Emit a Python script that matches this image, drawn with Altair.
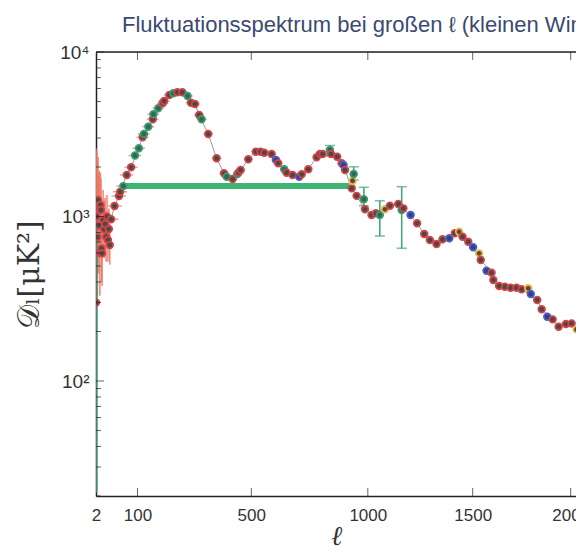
import altair as alt
import pandas as pd

# ---- main binned spectrum (multipole, D_ell in muK^2, dataset kind) ----
ell = [31, 39, 50, 53, 61, 70, 82, 93, 104, 115, 119, 132, 146, 148, 163, 177, 182, 199,
       212, 226, 243, 261, 273, 287, 302, 311, 335, 366, 394, 404, 427, 445, 450, 458,
       488, 518, 537, 552, 582, 600, 609, 634, 644, 669, 697, 708, 736, 772, 786, 798,
       830, 835, 862, 882, 890, 897, 927, 931, 936, 949, 982, 987, 1017, 1037, 1055,
       1079, 1102, 1141, 1157, 1165, 1199, 1230, 1264, 1291, 1323, 1352, 1385, 1412,
       1433, 1450, 1478, 1502, 1532, 1540, 1569, 1594, 1603, 1632, 1661, 1690, 1720,
       1746, 1780, 1793, 1826, 1849, 1878, 1906, 1937, 1975, 2005, 2031]
dl = [962, 1158, 1332, 1415, 1530, 1788, 1991, 2350, 2598, 3030, 3174, 3514, 3898, 4182,
      4548, 4877, 5036, 5477, 5610, 5689, 5689, 5401, 4918, 4830, 4140, 3898, 3174, 2259,
      1830, 1746, 1690, 1813, 1850, 1917, 2227, 2477, 2477, 2442, 2399, 2205, 2105, 1936,
      1846, 1788, 1746, 1805, 1936, 2291, 2399, 2399, 2537, 2399, 2309, 2105, 2056, 1917,
      1484, 1650, 1813, 1335, 1273, 1106, 1021, 1046, 1021, 1106, 1163, 1191, 1095, 1121,
      1021, 909, 783, 720, 681, 727, 737, 791, 808, 754, 703, 650, 597, 544, 468, 455,
      411, 378, 374, 369, 369, 361, 366, 338, 311, 273, 246, 237, 214, 222, 224, 206]
kind = ["r", "r", "r", "r", "g", "r", "r", "g", "g", "r", "g", "g", "r", "g", "g", "r", "r", "r",
        "g", "r", "r", "g", "r", "r", "r", "g", "r", "r", "r", "g", "r", "g", "r", "r",
        "r", "r", "r", "r", "r", "b", "r", "g", "r", "r", "b", "r", "r", "r", "r", "r",
        "g", "r", "r", "r", "b", "r", "r", "y", "g", "r", "g", "r", "r", "r", "g",
        "y", "r", "r", "g", "r", "b", "r", "r", "r", "r", "r", "b", "r",
        "y", "r", "r", "b", "y", "r", "b", "r", "r", "r", "r", "r", "r",
        "r", "y", "b", "r", "r", "b", "r", "r", "r", "r", "y"]

# ---- low multipoles with large (cosmic variance) error bars ----
low_ell = [2, 3, 4, 5, 6, 7, 8, 9, 10, 11, 12, 14, 16, 18, 20, 22, 24, 26, 28]
low_dl = [300, 1000, 750, 1260, 880, 1100, 600, 1175, 1095, 640, 597, 952, 836, 900, 754,
          1000, 720, 840, 671]
low_lo = [180, 380, 330, 600, 450, 600, 330, 680, 650, 400, 380, 620, 560, 620, 530,
          720, 530, 630, 510]
low_hi = [2600, 2500, 2200, 2300, 1800, 1900, 1300, 1850, 1700, 1150, 1050, 1450, 1250,
          1300, 1080, 1350, 1000, 1120, 900]
low_green_ell = [3]
low_green_lo = [21]
low_green_hi = [1300]

# ---- large green error bars with caps ----
bar_ell = [830, 936, 982, 1055, 1157]
bar_lo = [2330, 1667, 1163, 761, 641]
bar_hi = [2700, 2008, 1505, 1247, 1518]

# ---- highlighted horizontal band ----
band_ell = [55]
band_ell2 = [915]
band_dl = [1530]

# ---- axes ----
x_tick_values = [2, 100, 500, 1000, 1500, 2000]
x_major = [100, 500, 1000, 1500, 2000]
y_major = [100, 1000, 10000]
y_minor = [20, 30, 40, 50, 60, 70, 80, 90, 200, 300, 400, 500, 600, 700, 800, 900,
           2000, 3000, 4000, 5000, 6000, 7000, 8000, 9000]

W, H = 480, 444
XS = alt.Scale(type="pow", exponent=0.8, domain=[2, 2028], zero=False, nice=False)
YS = alt.Scale(type="log", domain=[20, 10000], nice=False)

xaxis = alt.Axis(values=x_tick_values, format="d", ticks=False, domain=True,
                 domainColor="#222222", domainWidth=1.5, grid=False,
                 labelFontSize=17, labelColor="#333333", labelFont="Liberation Sans",
                 labelPadding=11, labelFlush=False, labelOverlap=False, labelBound=False,
                 title="ℓ", titleFont="DejaVu Serif", titleFontStyle="italic",
                 titleFontSize=27, titleFontWeight="normal", titleColor="#333333",
                 titlePadding=0)
yaxis = alt.Axis(values=y_major, ticks=False, domain=True,
                 domainColor="#222222", domainWidth=1.5, grid=False,
                 labelExpr="datum.value == 100 ? '10²' : datum.value == 1000 ? '10³' : '10⁴'",
                 labelFontSize=19, labelColor="#333333", labelFont="Liberation Sans",
                 labelPadding=7, labelFlush=False,
                 title="𝒟ₗ[μK²]", titleFont="DejaVu Serif", titleFontSize=30,
                 titleFontWeight="normal", titleColor="#333333", titlePadding=15)


def X(f="l"):
    return alt.X(f"{f}:Q", scale=XS, axis=xaxis)


def Y(f="d"):
    return alt.Y(f"{f}:Q", scale=YS, axis=yaxis)


main = pd.DataFrame({"l": ell, "d": dl, "k": kind})
main["l1"] = main["l"] - 18
main["l2"] = main["l"] + 18
main["d1"] = main["d"] * 0.95
main["d2"] = main["d"] * 1.05
low = pd.DataFrame({"l": low_ell, "d": low_dl, "lo": low_lo, "hi": low_hi})
low["k"] = "r"
lowg = pd.DataFrame({"l": low_green_ell, "lo": low_green_lo, "hi": low_green_hi})
bars = pd.DataFrame({"l": bar_ell, "lo": bar_lo, "hi": bar_hi})
band = pd.DataFrame({"l": band_ell, "l2": band_ell2, "d": band_dl})
pts = pd.concat([low[["l", "d", "k"]], main[["l", "d", "k"]]], ignore_index=True)

kinds = ["r", "g", "b", "y"]
fill_scale = alt.Scale(domain=kinds, range=["#4a4a3e", "#2c6b52", "#2f3f8c", "#7a3a33"])
stroke_scale = alt.Scale(domain=kinds, range=["#d4424b", "#3b9a72", "#4b5fc2", "#d6c44c"])

low_bars = alt.Chart(low).mark_rule(color="#ea7561", strokeWidth=1.6, opacity=0.85, clip=True).encode(
    x=X(), y=Y("lo"), y2="hi:Q")
low_green = alt.Chart(lowg).mark_rule(color="#3f8f6e", strokeWidth=1.6, clip=True).encode(
    x=X(), y=Y("lo"), y2="hi:Q")
hbars = alt.Chart(main).mark_rule(color="#e9a291", strokeWidth=1.4, clip=True).encode(
    x=X("l1"), x2="l2:Q", y=Y())
vbars = alt.Chart(main).mark_rule(color="#e9a291", strokeWidth=1.2, clip=True).encode(
    x=X(), y=Y("d1"), y2="d2:Q")
theory = alt.Chart(main[main["k"] == "r"]).mark_line(color="#9a9a9a", strokeWidth=1, clip=True).encode(
    x=X(), y=Y())
band_rule = alt.Chart(band).mark_rule(color="#3fb472", strokeWidth=6, clip=True).encode(
    x=X(), x2="l2:Q", y=Y())
big_bars = alt.Chart(bars).mark_rule(color="#4aa384", strokeWidth=1.6, clip=True).encode(
    x=X(), y=Y("lo"), y2="hi:Q")
caps_lo = alt.Chart(bars).mark_tick(color="#4aa384", orient="horizontal", size=10, thickness=1.6, clip=True).encode(
    x=X(), y=Y("lo"))
caps_hi = alt.Chart(bars).mark_tick(color="#4aa384", orient="horizontal", size=10, thickness=1.6, clip=True).encode(
    x=X(), y=Y("hi"))
points = alt.Chart(pts).mark_point(shape="circle", filled=True, size=44, strokeWidth=1.8,
                                   opacity=1, clip=True).encode(
    x=X(), y=Y(),
    fill=alt.Fill("k:N", scale=fill_scale, legend=None),
    stroke=alt.Stroke("k:N", scale=stroke_scale, legend=None))

frame_top = alt.Chart(pd.DataFrame({"a": [0]})).mark_rule(color="#222222", strokeWidth=1.5).encode(
    x=alt.value(0), x2=alt.value(W + 20), y=alt.value(0))
ymaj = alt.Chart(pd.DataFrame({"d": y_major})).mark_tick(
    color="#222222", orient="horizontal", size=8, thickness=1).encode(x=alt.value(4), y=Y())
ymin = alt.Chart(pd.DataFrame({"d": y_minor})).mark_tick(
    color="#222222", orient="horizontal", size=5, thickness=1).encode(x=alt.value(2.5), y=Y())
xbot = alt.Chart(pd.DataFrame({"l": x_major})).mark_tick(
    color="#222222", orient="vertical", size=8, thickness=1).encode(x=X(), y=alt.value(H - 4))
xtop = alt.Chart(pd.DataFrame({"l": x_major})).mark_tick(
    color="#222222", orient="vertical", size=8, thickness=1).encode(x=X(), y=alt.value(4))

chart = alt.layer(
    low_bars, low_green, hbars, vbars, theory, band_rule, big_bars, caps_lo, caps_hi,
    points, frame_top, ymaj, ymin, xbot, xtop
).properties(
    width=W, height=H,
    autosize=alt.AutoSizeParams(type="none"),
    padding={"left": 88, "top": 44, "right": 0, "bottom": 56},
    title=alt.TitleParams("Fluktuationsspektrum bei großen ℓ (kleinen Winkeln)",
                          anchor="start", frame="group", dx=26, fontSize=22,
                          font="Liberation Sans", fontWeight="normal", color="#3b4a70",
                          offset=6),
).configure_view(stroke=None).configure(background="white")

chart.save("out.html", embed_options={"renderer": "svg", "actions": False})
